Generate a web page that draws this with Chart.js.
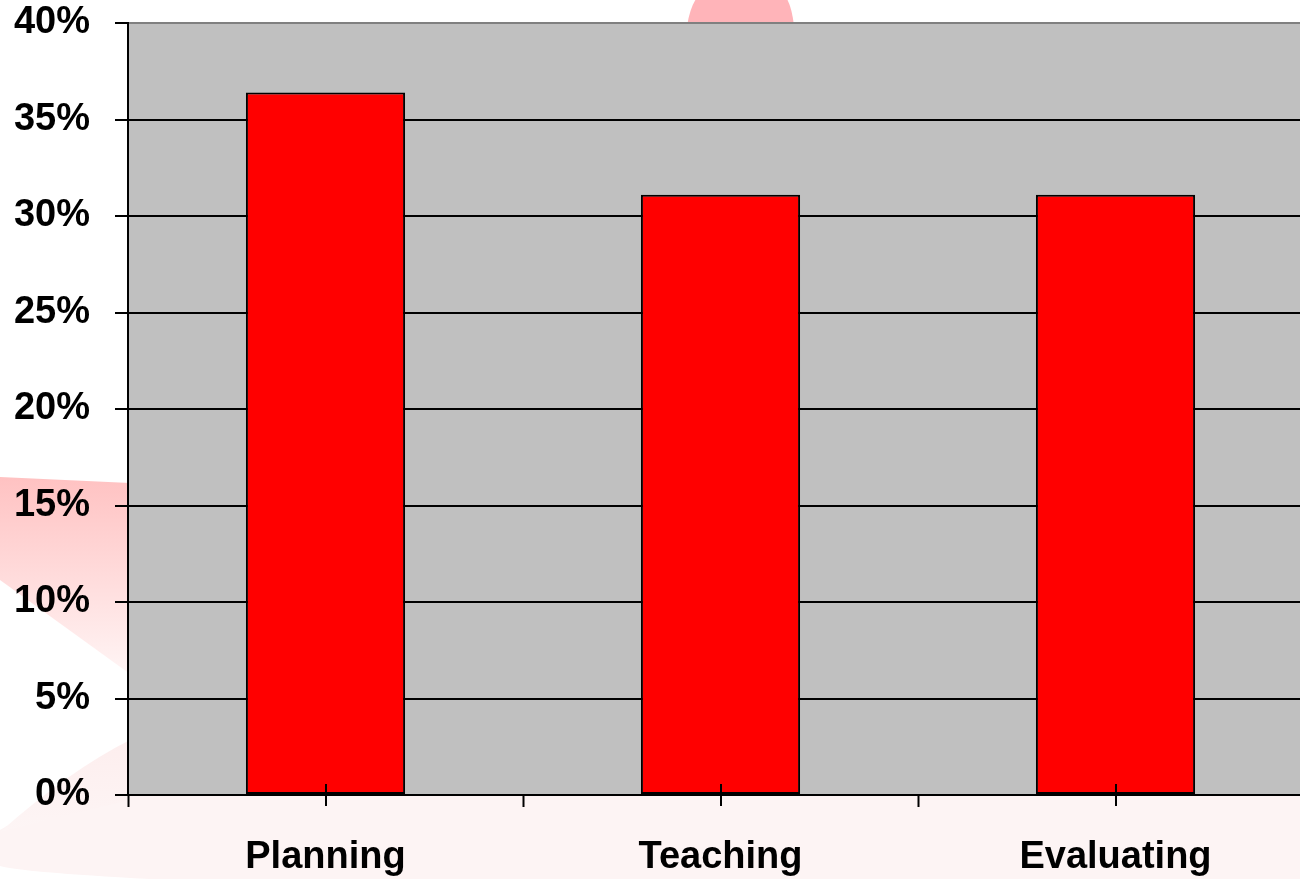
<!DOCTYPE html>
<html>
<head>
<meta charset="utf-8">
<script src="https://cdn.jsdelivr.net/npm/chart.js@4/dist/chart.umd.min.js"></script>
<style>
html,body{margin:0;padding:0;overflow:hidden;background:#fff;width:1300px;height:879px;}
canvas{display:block;}
</style>
</head>
<body>
<canvas id="c" width="1316" height="879"></canvas>
<script>
const categories = ["Planning", "Teaching", "Evaluating"];
const shares = [36.4, 31.1, 31.1];
const yTicks = [0, 5, 10, 15, 20, 25, 30, 35, 40];

const FONT = "'Liberation Sans', Arial, sans-serif";

const backdrop = {
  id: 'backdrop',
  beforeDraw(chart) {
    const ctx = chart.ctx, W = chart.width, H = chart.height, a = chart.chartArea;
    ctx.save();
    ctx.fillStyle = '#fff';
    ctx.fillRect(0, 0, W, H);
    // decorative slide background shapes
    ctx.fillStyle = '#fdf4f4';
    ctx.beginPath();
    ctx.moveTo(0, 830);
    ctx.quadraticCurveTo(50, 798, 130, 795);
    ctx.lineTo(W, 795);
    ctx.lineTo(W, H);
    ctx.lineTo(150, H);
    ctx.quadraticCurveTo(20, 872, 0, 866);
    ctx.closePath();
    ctx.fill();
    let g2 = ctx.createLinearGradient(0, 730, 0, 830);
    g2.addColorStop(0, '#fdeded');
    g2.addColorStop(1, '#fdf5f5');
    ctx.fillStyle = g2;
    ctx.beginPath();
    ctx.moveTo(130, 740);
    ctx.lineTo(130, 800);
    ctx.lineTo(0, 832);
    ctx.quadraticCurveTo(70, 770, 130, 740);
    ctx.closePath();
    ctx.fill();
    let g = ctx.createLinearGradient(0, 478, 0, 672);
    g.addColorStop(0, '#ffc2c2');
    g.addColorStop(1, '#fff4f4');
    ctx.fillStyle = g;
    ctx.beginPath();
    ctx.moveTo(0, 477);
    ctx.lineTo(130, 483);
    ctx.lineTo(130, 674);
    ctx.lineTo(0, 580);
    ctx.closePath();
    ctx.fill();
    ctx.fillStyle = '#ffb4b9';
    ctx.beginPath();
    ctx.moveTo(687, 26);
    ctx.quadraticCurveTo(690, 8, 696, -1);
    ctx.lineTo(787, -1);
    ctx.quadraticCurveTo(792, 8, 794, 26);
    ctx.closePath();
    ctx.fill();
    ctx.fillStyle = '#c0c0c0';
    ctx.fillRect(a.left, a.top, a.right - a.left, a.bottom - a.top);
    ctx.restore();
  },
  afterDatasetsDraw(chart) {
    const ctx = chart.ctx, x = chart.scales.x, a = chart.chartArea;
    ctx.save();
    ctx.strokeStyle = '#000';
    ctx.lineWidth = 2;
    ctx.beginPath();
    categories.forEach((c, i) => {
      const px = Math.round(x.getPixelForValue(i));
      ctx.moveTo(px, a.bottom - 11);
      ctx.lineTo(px, a.bottom + 11);
    });
    ctx.stroke();
    ctx.restore();
  }
};

new Chart(document.getElementById('c'), {
  type: 'bar',
  data: {
    labels: categories,
    datasets: [{
      data: shares,
      backgroundColor: '#ff0000',
      borderColor: '#000000',
      borderWidth: 2,
      borderSkipped: false,
      categoryPercentage: 1,
      barPercentage: 0.403
    }]
  },
  options: {
    responsive: false,
    animation: false,
    devicePixelRatio: 1,
    layout: { padding: { top: 23, right: 3, left: 0, bottom: 0 } },
    plugins: { legend: { display: false }, tooltip: { enabled: false } },
    scales: {
      x: {
        offset: true,
        grid: {
          offset: true,
          drawOnChartArea: false,
          drawTicks: true,
          tickLength: 12,
          tickWidth: 2,
          tickColor: '#000'
        },
        border: { display: true, color: '#000', width: 2 },
        ticks: {
          color: '#000',
          font: { family: FONT, size: 38, weight: 'bold' },
          padding: 28,
          maxRotation: 0
        },
        afterFit(s) { s.height = 84; s.paddingLeft = 0; s.paddingRight = 0; }
      },
      y: {
        min: 0,
        max: 40,
        afterBuildTicks(s) { s.ticks = yTicks.map(v => ({ value: v })); },
        grid: {
          color: c => (c.tick && c.tick.value === 40) ? '#808080' : '#000',
          lineWidth: 2,
          tickLength: 13,
          tickColor: '#000',
          tickWidth: 2
        },
        border: { display: true, color: '#000', width: 2 },
        ticks: {
          color: '#000',
          font: { family: FONT, size: 38, weight: 'bold' },
          padding: 25,
          callback: v => v + '%'
        },
        afterFit(s) { s.width = 128; s.paddingTop = 0; s.paddingBottom = 0; }
      }
    }
  },
  plugins: [backdrop]
});
</script>
</body>
</html>
